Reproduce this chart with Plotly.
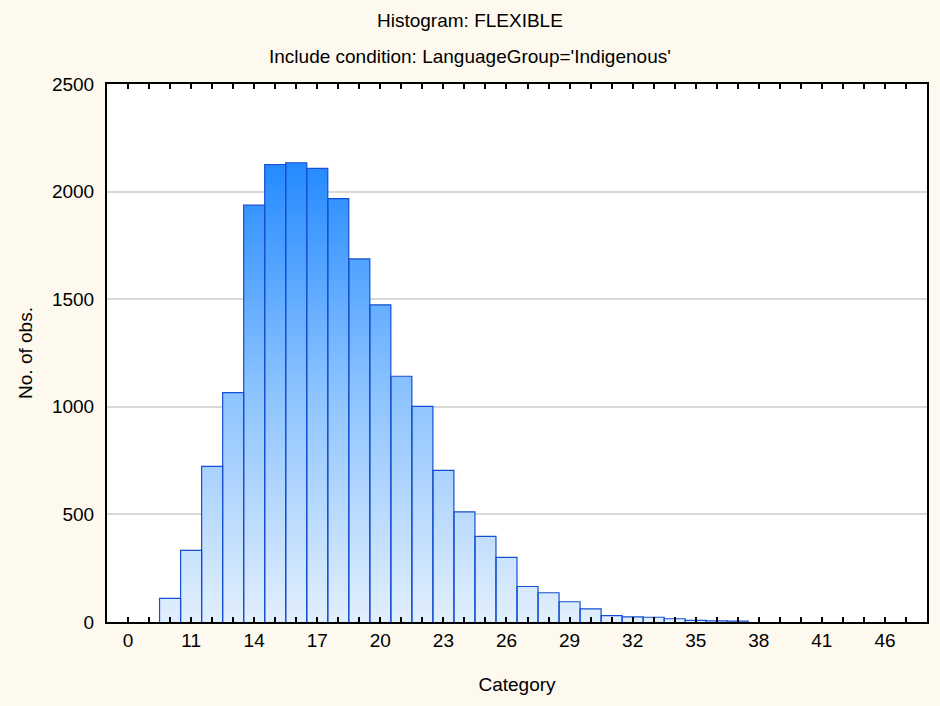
import plotly.graph_objects as go

# Data (categories and counts)
categories = list(range(10, 47))
counts = [110, 333, 723, 1066, 1937, 2126, 2134, 2108, 1967, 1687,
          1474, 1142, 1002, 705, 512, 398, 300, 165, 136, 94,
          61, 30, 24, 22, 15, 8, 5, 4, 0, 0,
          0, 0, 0, 0, 0, 0, 0]
tick_positions = [8, 11, 14, 17, 20, 23, 26, 29, 32, 35, 38, 41, 44]
tick_labels = ['0', '11', '14', '17', '20', '23', '26', '29', '32', '35', '38', '41', '46']
title_main = 'Histogram: FLEXIBLE'
title_sub = "Include condition: LanguageGroup='Indigenous'"

FONT = 'Liberation Sans, Arial, sans-serif'
PAPER = '#fdf9ee'
EDGE = '#1550d2'

# gradient-filled bar shapes built from the data (open at the base; fill closes them)
px, py = [], []
for c, v in zip(categories, counts):
    if v <= 0:
        continue
    px += [c - 0.5, c - 0.5, c + 0.5, c + 0.5, None]
    py += [0, v, v, 0, None]

fig = go.Figure()
fig.add_trace(go.Scatter(
    x=px, y=py, mode='lines', fill='toself', connectgaps=False,
    line=dict(color=EDGE, width=1.2),
    fillgradient=dict(type='vertical', start=0, stop=2150,
                      colorscale=[[0, '#e2effd'], [0.5, '#8cc3ff'], [1, '#2289ff']]),
    hoverinfo='skip', showlegend=False))

x_tickvals = list(range(7, 47))
x_ticktext = [tick_labels[tick_positions.index(t)] if t in tick_positions else '' for t in x_tickvals]

fig.update_layout(
    width=940, height=706,
    paper_bgcolor=PAPER, plot_bgcolor='white',
    margin=dict(l=107, r=13, t=84, b=84),
    font=dict(family=FONT, size=19, color='black'),
    xaxis=dict(range=[7, 46], tickmode='array', tickvals=x_tickvals, ticktext=x_ticktext,
               ticks='inside', ticklen=5, tickwidth=2, tickcolor='black',
               showline=True, linecolor='black', linewidth=2, mirror='ticks',
               showgrid=False, zeroline=False, layer='above traces',
               title=dict(text='Category', standoff=28, font=dict(size=19)),
               tickfont=dict(size=19)),
    yaxis=dict(range=[0, 2500], tickmode='array', tickvals=[0, 500, 1000, 1500, 2000, 2500],
               ticktext=['0', '500', '1000', '1500', '2000', '2500'],
               ticks='', showline=True, linecolor='black', linewidth=2, mirror=True,
               showgrid=True, gridcolor='#d8d8d8', gridwidth=1.5, zeroline=False,
               layer='above traces', ticklabelstandoff=7,
               title=dict(text='No. of obs.', standoff=14, font=dict(size=19)),
               tickfont=dict(size=19)),
    annotations=[
        dict(text=title_main, xref='paper', yref='paper', x=(470 - 107) / 820, y=(621.5 - 21) / 537.5,
             showarrow=False, xanchor='center', yanchor='middle', font=dict(size=19)),
        dict(text=title_sub, xref='paper', yref='paper', x=(470 - 107) / 820, y=(621.5 - 57) / 537.5,
             showarrow=False, xanchor='center', yanchor='middle', font=dict(size=19)),
    ],
)

fig.write_html('out.html', config={'displayModeBar': False},
               post_script="document.body.style.margin='0';document.body.style.overflow='hidden';"
                           "document.documentElement.style.background='" + PAPER + "';")
